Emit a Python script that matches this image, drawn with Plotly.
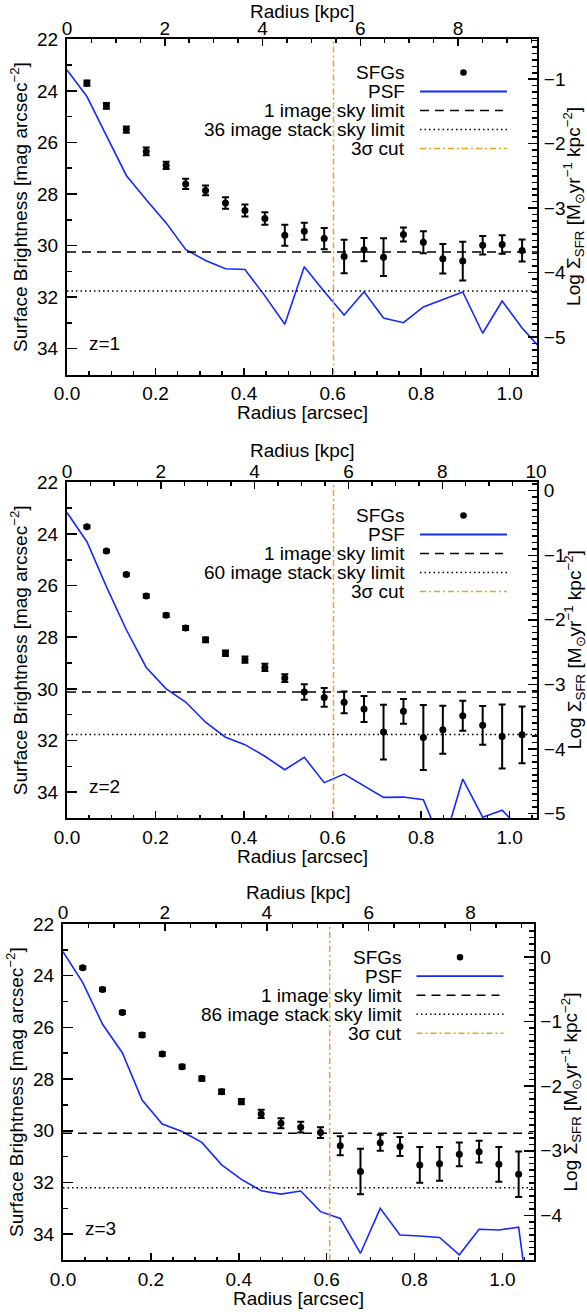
import plotly.graph_objects as go

FIG_W, FIG_H = 587, 1312
FONT = "Liberation Sans, Arial, Helvetica, sans-serif"

# ---------------- data ----------------
# z = 1
sfg_r_z1 = [0.045, 0.089, 0.134, 0.179, 0.224, 0.268, 0.313, 0.358, 0.402, 0.447, 0.492, 0.536,
            0.581, 0.626, 0.671, 0.715, 0.760, 0.805, 0.849, 0.894, 0.939, 0.983, 1.028]
sfg_mag_z1 = [23.70, 24.58, 25.50, 26.35, 26.89, 27.61, 27.86, 28.35, 28.64, 28.95, 29.60, 29.44,
              29.73, 30.42, 30.16, 30.45, 29.57, 29.87, 30.51, 30.60, 29.99, 29.96, 30.19]
sfg_err_z1 = [0.10, 0.11, 0.12, 0.15, 0.14, 0.20, 0.19, 0.22, 0.23, 0.24, 0.41, 0.33,
              0.41, 0.65, 0.45, 0.73, 0.27, 0.43, 0.57, 0.75, 0.36, 0.36, 0.43]
psf_r_z1 = [0.0, 0.045, 0.089, 0.134, 0.179, 0.224, 0.268, 0.313, 0.358, 0.402, 0.447, 0.492, 0.536,
            0.581, 0.626, 0.671, 0.715, 0.760, 0.805, 0.849, 0.894, 0.939, 0.983, 1.028, 1.073]
psf_mag_z1 = [23.19, 24.22, 25.74, 27.28, 28.22, 29.12, 30.15, 30.58, 30.90, 30.93, 31.95, 33.05, 30.82,
              31.78, 32.69, 31.79, 32.81, 32.99, 32.38, 32.09, 31.80, 33.40, 32.15, 33.20, 34.05]
sky1_z1, stack_z1, cut_z1 = 30.25, 31.76, 0.602

# z = 2
sfg_r_z2 = sfg_r_z1
sfg_mag_z2 = [23.72, 24.66, 25.57, 26.40, 27.15, 27.64, 28.10, 28.62, 28.87, 29.17, 29.58, 30.12,
              30.33, 30.52, 30.78, 31.67, 30.87, 31.88, 31.58, 31.04, 31.41, 31.84, 31.78]
sfg_err_z2 = [0.05, 0.05, 0.05, 0.06, 0.07, 0.08, 0.09, 0.11, 0.12, 0.14, 0.15, 0.30,
              0.36, 0.42, 0.50, 1.06, 0.48, 1.26, 0.93, 0.58, 0.75, 1.24, 1.10]
psf_r_z2 = psf_r_z1
psf_mag_z2 = [23.17, 24.30, 26.04, 27.71, 29.17, 30.00, 30.51, 31.29, 31.87, 32.16, 32.61, 33.13, 32.65,
              33.63, 33.30, 33.77, 34.20, 34.19, 34.29, 36.10, 33.49, 34.97, 34.70, 35.50, 36.00]
sky1_z2, stack_z2, cut_z2 = 30.12, 31.77, 0.602

# z = 3
sfg_r_z3 = [0.045, 0.090, 0.135, 0.180, 0.226, 0.271, 0.316, 0.361, 0.406, 0.451, 0.496, 0.541,
            0.586, 0.631, 0.677, 0.722, 0.767, 0.812, 0.857, 0.902, 0.947, 0.992, 1.037]
sfg_mag_z3 = [23.69, 24.53, 25.42, 26.29, 27.03, 27.52, 27.98, 28.49, 28.87, 29.35, 29.71, 29.86,
              30.07, 30.58, 31.58, 30.46, 30.61, 31.32, 31.28, 30.91, 30.81, 31.30, 31.68]
sfg_err_z3 = [0.05, 0.06, 0.06, 0.07, 0.07, 0.07, 0.08, 0.09, 0.10, 0.16, 0.19, 0.21,
              0.21, 0.37, 0.88, 0.31, 0.37, 0.69, 0.65, 0.46, 0.42, 0.67, 0.88]
psf_r_z3 = [0.0, 0.045, 0.090, 0.135, 0.180, 0.226, 0.271, 0.316, 0.361, 0.406, 0.451, 0.496, 0.541,
            0.586, 0.631, 0.677, 0.722, 0.767, 0.812, 0.857, 0.902, 0.947, 0.992, 1.037, 1.082]
psf_mag_z3 = [23.07, 24.27, 25.88, 26.98, 28.81, 29.74, 30.03, 30.45, 31.32, 31.88, 32.32, 32.45, 32.33,
              33.13, 33.39, 34.74, 33.00, 34.03, 34.07, 34.13, 34.80, 33.81, 33.84, 33.73, 39.50]
sky1_z3, stack_z3, cut_z3 = 30.10, 32.20, 0.607

redshift_labels = ["z=1", "z=2", "z=3"]
stack_counts = [36, 60, 86]

# axis extents
arcsec_max = [1.0617, 1.0617, 1.0708]
kpc_max = [9.615, 10.02, 9.235]
logsfr_range = [[-5.581, -0.381], [-5.07, 0.13], [-4.69, 0.51]]
mag_range = [35, 22]

# ---------------- layout geometry (pixels) ----------------
boxes = [  # left, right, top, bottom
    (67, 537, 39.3, 374.5),
    (67, 537, 482.3, 818.0),
    (63, 533.5, 924.0, 1260.0),
]


def px(x):
    return x / FIG_W


def py(y):
    return 1 - y / FIG_H


panels = [
    dict(r=sfg_r_z1, m=sfg_mag_z1, e=sfg_err_z1, pr=psf_r_z1, pm=psf_mag_z1,
         sky=sky1_z1, stack=stack_z1, cut=cut_z1),
    dict(r=sfg_r_z2, m=sfg_mag_z2, e=sfg_err_z2, pr=psf_r_z2, pm=psf_mag_z2,
         sky=sky1_z2, stack=stack_z2, cut=cut_z2),
    dict(r=sfg_r_z3, m=sfg_mag_z3, e=sfg_err_z3, pr=psf_r_z3, pm=psf_mag_z3,
         sky=sky1_z3, stack=stack_z3, cut=cut_z3),
]

BLUE = "#1428ff"
ORANGE = "#E6A326"

fig = go.Figure()
layout = {}
annotations = []
shapes = []

tickfont = dict(family=FONT, size=19, color="black")
titlefont = dict(family=FONT, size=19, color="black")

for i, p in enumerate(panels):
    n = i + 1
    xb = "x" if n == 1 else f"x{n}"
    yb = "y" if n == 1 else f"y{n}"
    xt = f"x{n + 3}"
    yr = f"y{n + 3}"
    L, R, T, B = boxes[i]
    xdom = [px(L), px(R)]
    ydom = [py(B), py(T)]
    xmax = arcsec_max[i]

    # PSF
    fig.add_trace(go.Scatter(x=p["pr"], y=p["pm"], mode="lines",
                             line=dict(color=BLUE, width=1.6),
                             xaxis=xb, yaxis=yb, showlegend=False, hoverinfo="skip"))
    # sky limits
    fig.add_trace(go.Scatter(x=[0, xmax], y=[p["sky"], p["sky"]], mode="lines",
                             line=dict(color="black", width=1.5, dash="9px,6px"),
                             xaxis=xb, yaxis=yb, showlegend=False, hoverinfo="skip"))
    fig.add_trace(go.Scatter(x=[0, xmax], y=[p["stack"], p["stack"]], mode="lines",
                             line=dict(color="black", width=1.5, dash="1.5px,3px"),
                             xaxis=xb, yaxis=yb, showlegend=False, hoverinfo="skip"))
    # 3 sigma cut
    fig.add_trace(go.Scatter(x=[p["cut"], p["cut"]], y=mag_range, mode="lines",
                             line=dict(color=ORANGE, width=1.5, dash="6px,3px,2px,3px"),
                             xaxis=xb, yaxis=yb, showlegend=False, hoverinfo="skip"))
    # SFG points
    fig.add_trace(go.Scatter(x=p["r"], y=p["m"], mode="markers",
                             marker=dict(color="black", size=7),
                             error_y=dict(type="data", array=p["e"], visible=True,
                                          color="black", thickness=2, width=3.5),
                             xaxis=xb, yaxis=yb, showlegend=False, hoverinfo="skip"))
    # carriers for the secondary axes
    fig.add_trace(go.Scatter(x=[None], y=[None], xaxis=xt, yaxis=yb,
                             showlegend=False, hoverinfo="skip"))
    fig.add_trace(go.Scatter(x=[None], y=[None], xaxis=xb, yaxis=yr,
                             showlegend=False, hoverinfo="skip"))

    base = dict(showline=True, linecolor="black", linewidth=2, showgrid=False,
                zeroline=False, ticks="inside", tickcolor="black", tickwidth=1.5,
                tickfont=tickfont, automargin=False)

    xkey = "xaxis" if n == 1 else f"xaxis{n}"
    ykey = "yaxis" if n == 1 else f"yaxis{n}"
    layout[xkey] = dict(base, domain=xdom, anchor=yb, range=[0, xmax], side="bottom",
                        tick0=0, dtick=0.2, tickformat=".1f", ticklen=7,
                        minor=dict(dtick=0.05, ticklen=3.5, ticks="inside",
                                   tickcolor="black", tickwidth=1.5),
                        ticklabelstandoff=1)
    layout[ykey] = dict(base, domain=ydom, anchor=xb, range=mag_range, side="left",
                        tick0=22, dtick=2, ticklen=9.5,
                        minor=dict(dtick=1, ticklen=4.7, ticks="inside",
                                   tickcolor="black", tickwidth=1.5),
                        ticklabelstandoff=3)
    layout[f"xaxis{n + 3}"] = dict(base, overlaying=xb, anchor=yb, side="top",
                                   range=[0, kpc_max[i]], tick0=0, dtick=2, ticklen=7,
                                   minor=dict(dtick=0.5, ticklen=3.5, ticks="inside",
                                              tickcolor="black", tickwidth=1.5),
                                   ticklabelstandoff=-5)
    layout[f"yaxis{n + 3}"] = dict(base, overlaying=yb, anchor=xb, side="right",
                                   range=logsfr_range[i], tick0=0, dtick=1, ticklen=9.5,
                                   minor=dict(dtick=0.1, ticklen=4.7, ticks="inside",
                                              tickcolor="black", tickwidth=1.5),
                                   ticklabelstandoff=1)

    # axis titles (placed in pixels to match the reference)
    cx, cy = (L + R) / 2, (T + B) / 2
    annotations += [
        dict(text="Radius [arcsec]", xref="paper", yref="paper", x=px(cx), y=py(B + 38.5),
             xanchor="center", yanchor="middle", showarrow=False, font=titlefont),
        dict(text="Radius [kpc]", xref="paper", yref="paper", x=px(cx), y=py(max(T - 31.5, 11.5)),
             xanchor="center", yanchor="middle", showarrow=False, font=titlefont),
        dict(text="Surface Brightness [mag arcsec<sup>\u22122</sup>]", xref="paper", yref="paper",
             x=px(L - 48), y=py(cy), textangle=-90, xanchor="center", yanchor="middle",
             showarrow=False, font=titlefont),
        dict(text="Log \u03a3<sub>SFR</sub> [M<sub>\u2299</sub>yr<sup>\u22121</sup> kpc<sup>\u22122</sup>]",
             xref="paper", yref="paper", x=px(R + 37), y=py(cy), textangle=-90,
             xanchor="center", yanchor="middle", showarrow=False, font=titlefont),
    ]

    # redshift label
    annotations.append(dict(text=redshift_labels[i], xref=xb, yref=yb,
                            x=0.084 if i < 2 else 0.085, y=33.78, showarrow=False,
                            xanchor="center", yanchor="middle", font=titlefont))

    # legend (text on the left, key on the right)
    rows = [T + 33.2 + 19.0 * k for k in range(5)]
    text_right = R - 130
    key_l, key_r = R - 117, R - 30
    dot_x = R - 73.5
    labels = ["SFGs", "PSF", "1 image sky limit",
              f"{stack_counts[i]} image stack sky limit", "3\u03c3 cut"]
    for lab, ry in zip(labels, rows):
        annotations.append(dict(text=lab, xref="paper", yref="paper", x=px(text_right),
                                y=py(ry), xanchor="right", yanchor="middle",
                                showarrow=False, font=titlefont))
    shapes.append(dict(type="circle", xref="paper", yref="paper",
                       x0=px(dot_x - 3.3), x1=px(dot_x + 3.3),
                       y0=py(rows[0] + 3.3), y1=py(rows[0] - 3.3),
                       fillcolor="black", line=dict(color="black", width=0)))
    shapes.append(dict(type="line", xref="paper", yref="paper", x0=px(key_l), x1=px(key_r),
                       y0=py(rows[1]), y1=py(rows[1]), line=dict(color=BLUE, width=1.8)))
    shapes.append(dict(type="line", xref="paper", yref="paper", x0=px(key_l), x1=px(key_r - 4),
                       y0=py(rows[2]), y1=py(rows[2]),
                       line=dict(color="black", width=1.5, dash="9px,6px")))
    shapes.append(dict(type="line", xref="paper", yref="paper", x0=px(key_l), x1=px(key_r),
                       y0=py(rows[3]), y1=py(rows[3]),
                       line=dict(color="black", width=1.5, dash="1.5px,3px")))
    shapes.append(dict(type="line", xref="paper", yref="paper", x0=px(key_l), x1=px(key_r),
                       y0=py(rows[4]), y1=py(rows[4]),
                       line=dict(color=ORANGE, width=1.5, dash="6px,3px,2px,3px")))

fig.update_layout(
    width=FIG_W, height=FIG_H,
    margin=dict(l=0, r=0, t=0, b=0),
    paper_bgcolor="white", plot_bgcolor="white",
    font=dict(family=FONT, size=19, color="black"),
    showlegend=False,
    annotations=annotations,
    shapes=shapes,
    **layout,
)

fig.write_html("out.html", config={"displayModeBar": False, "staticPlot": True},
               post_script="document.body.style.margin='0px';document.body.style.padding='0px';")
